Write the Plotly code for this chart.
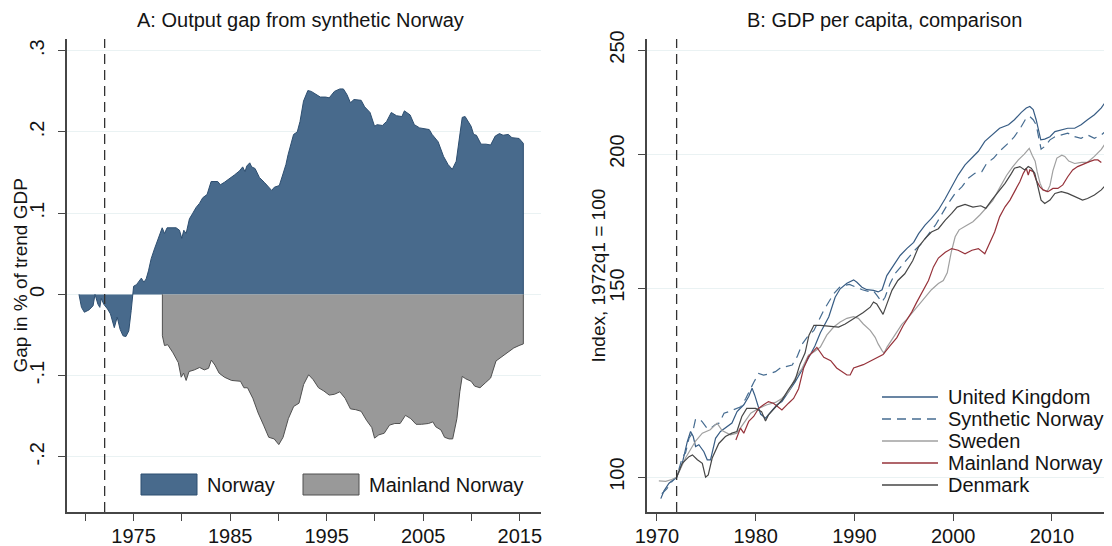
import numpy as np
import plotly.graph_objects as go

# target picture size, and the page's default body margin that offsets the plot div
W_PAGE, H_PAGE = 1112, 546
OFF = 8
W, H = W_PAGE - OFF, H_PAGE - OFF

treatment_year = 1972

# ---- panel A: output gap (share of trend GDP) ----
norway_years = [1969.34, 1969.6, 1969.9, 1970.4, 1970.8, 1971.0, 1971.3, 1971.5, 1971.65, 1971.9,
                1972.3, 1972.6, 1973.0, 1973.3, 1973.6, 1973.9, 1974.2, 1974.5, 1974.75, 1975.0,
                1975.3, 1975.6, 1975.8, 1976.06, 1976.3, 1976.54, 1976.82, 1977.16, 1977.51, 1977.78,
                1977.96, 1978.2, 1978.47, 1979.4, 1979.75, 1979.99, 1980.2, 1980.44, 1980.78, 1981.13,
                1981.47, 1981.82, 1982.16, 1982.61, 1982.85, 1983.03, 1983.71, 1983.99, 1984.4, 1984.92,
                1985.44, 1985.96, 1986.3, 1986.54, 1986.72, 1987.03, 1987.23, 1987.58, 1988.03, 1988.54,
                1989.06, 1989.3, 1989.58, 1990.09, 1990.44, 1990.78, 1991.0, 1991.23, 1991.57, 1991.95,
                1992.24, 1992.6, 1993.05, 1993.4, 1993.97, 1994.34, 1994.9, 1995.26, 1995.8, 1996.36,
                1996.73, 1997.1, 1997.46, 1997.83, 1998.57, 1998.93, 1999.49, 1999.96, 2000.22, 2000.77,
                2001.21, 2001.69, 2002.24, 2002.79, 2003.05, 2003.64, 2004.08, 2004.63, 2005.62, 2005.92,
                2006.54, 2007.1, 2007.57, 2008.01, 2008.42, 2008.79, 2009.04, 2009.34, 2009.67, 2009.96,
                2010.22, 2010.51, 2010.99, 2011.5, 2011.98, 2012.46, 2012.9, 2013.27, 2013.82, 2014.19,
                2014.93, 2015.37, 2015.37]
norway_gap = [0.0, -0.016, -0.022, -0.019, -0.014, 0.0, -0.012, -0.016, -0.005, -0.012,
              -0.018, -0.024, -0.041, -0.028, -0.043, -0.051, -0.052, -0.045, -0.020, 0.010,
              0.012, 0.017, 0.020, 0.015, 0.019, 0.029, 0.044, 0.056, 0.067, 0.077,
              0.082, 0.075, 0.082, 0.082, 0.079, 0.069, 0.079, 0.075, 0.093, 0.100,
              0.107, 0.112, 0.119, 0.123, 0.132, 0.139, 0.139, 0.135, 0.138, 0.142,
              0.147, 0.152, 0.157, 0.151, 0.158, 0.162, 0.157, 0.155, 0.144, 0.138,
              0.131, 0.128, 0.132, 0.134, 0.147, 0.160, 0.172, 0.182, 0.197, 0.200,
              0.213, 0.238, 0.251, 0.250, 0.246, 0.243, 0.243, 0.242, 0.250, 0.253,
              0.253, 0.246, 0.236, 0.240, 0.239, 0.231, 0.224, 0.207, 0.209, 0.208,
              0.213, 0.224, 0.220, 0.219, 0.226, 0.221, 0.209, 0.205, 0.203, 0.197,
              0.188, 0.170, 0.160, 0.154, 0.164, 0.197, 0.218, 0.219, 0.213, 0.207,
              0.197, 0.196, 0.185, 0.185, 0.184, 0.195, 0.198, 0.196, 0.197, 0.193,
              0.192, 0.186, 0.0]

mainland_years = [1977.98, 1977.98, 1978.2, 1978.53, 1979.08, 1979.63, 1979.93, 1980.18, 1980.44, 1980.74,
                  1981.29, 1981.84, 1982.32, 1982.76, 1983.05, 1983.42, 1983.86, 1984.41, 1985.15, 1986.07,
                  1986.43, 1986.8, 1987.35, 1987.9, 1988.46, 1989.0, 1989.56, 1990.04, 1990.48, 1991.03,
                  1991.58, 1992.13, 1992.61, 1993.13, 1993.6, 1994.15, 1994.71, 1995.26, 1995.81, 1996.36,
                  1996.91, 1997.46, 1998.01, 1998.57, 1999.12, 1999.67, 1999.96, 2000.4, 2000.96, 2001.51,
                  2002.06, 2002.61, 2003.16, 2003.71, 2004.26, 2004.82, 2005.55, 2006.0, 2006.29, 2006.84,
                  2007.21, 2007.68, 2008.05, 2008.49, 2008.79, 2009.04, 2009.41, 2009.96, 2010.33, 2010.88,
                  2011.43, 2011.98, 2012.54, 2013.09, 2013.64, 2014.38, 2014.93, 2015.37, 2015.37]
mainland_gap = [0.0, -0.051, -0.063, -0.062, -0.072, -0.084, -0.102, -0.097, -0.106, -0.095,
                -0.093, -0.090, -0.093, -0.091, -0.081, -0.087, -0.097, -0.102, -0.106, -0.107,
                -0.115, -0.115, -0.128, -0.146, -0.161, -0.176, -0.178, -0.185, -0.176, -0.153,
                -0.138, -0.134, -0.111, -0.099, -0.105, -0.115, -0.119, -0.124, -0.123, -0.120,
                -0.128, -0.141, -0.142, -0.144, -0.155, -0.164, -0.177, -0.173, -0.171, -0.161,
                -0.159, -0.159, -0.149, -0.153, -0.160, -0.160, -0.159, -0.157, -0.163, -0.167,
                -0.176, -0.178, -0.178, -0.153, -0.120, -0.101, -0.104, -0.107, -0.113, -0.115,
                -0.109, -0.103, -0.082, -0.077, -0.072, -0.066, -0.063, -0.061, 0.0]

gap_ticks = [-0.2, -0.1, 0.0, 0.1, 0.2, 0.3]
gap_tick_labels = ["-.2", "-.1", "0", ".1", ".2", ".3"]
a_year_ticks = [1970, 1975, 1980, 1985, 1990, 1995, 2000, 2005, 2010, 2015]
a_year_labels = ["", "1975", "", "1985", "", "1995", "", "2005", "", "2015"]

# ---- panel B: GDP per capita index, 1972q1 = 100 ----
uk_years = [1970.4, 1970.72, 1971.23, 1972.0, 1972.57, 1973.08, 1973.41, 1973.68, 1973.92, 1974.25,
            1974.76, 1975.1, 1975.43, 1975.6, 1975.94, 1976.44, 1976.94, 1977.6, 1978.12, 1978.8,
            1979.3, 1979.64, 1979.9, 1980.14, 1980.5, 1981.0, 1981.65, 1982.16, 1982.66, 1983.33,
            1984.0, 1984.68, 1985.35, 1986.0, 1986.55, 1987.4, 1988.05, 1988.56, 1989.24, 1989.92,
            1990.25, 1990.76, 1991.26, 1991.93, 1992.4, 1992.8, 1993.28, 1993.96, 1994.63, 1995.3,
            1996.0, 1996.5, 1997.15, 1997.8, 1998.5, 1999.2, 1999.85, 2000.5, 2001.2, 2001.9,
            2002.55, 2003.2, 2003.9, 2004.7, 2005.6, 2006.2, 2006.9, 2007.4, 2007.76, 2008.1,
            2008.4, 2008.67, 2008.87, 2009.27, 2009.8, 2010.3, 2010.95, 2011.6, 2012.3, 2012.95,
            2013.6, 2014.3, 2015.0, 2015.6]
uk_index = [95.5, 97.1, 98.7, 100.0, 103.0, 107.9, 110.3, 109.1, 106.8, 107.2,
            105.6, 103.8, 103.8, 105.6, 108.7, 110.3, 111.1, 112.3, 115.1, 116.8,
            118.9, 121.0, 119.3, 117.2, 114.5, 113.5, 115.5, 116.8, 117.6, 120.1,
            122.7, 125.8, 129.0, 132.5, 136.3, 141.0, 147.1, 149.8, 151.6, 152.7,
            151.9, 150.3, 149.5, 149.3, 148.8, 149.5, 154.1, 157.5, 160.9, 163.3,
            165.5, 168.6, 171.7, 174.2, 177.4, 181.8, 186.5, 191.2, 195.4, 198.3,
            201.2, 205.5, 208.4, 211.4, 213.0, 215.3, 218.7, 220.8, 221.5, 220.0,
            215.3, 209.2, 206.2, 206.5, 207.6, 209.9, 210.7, 211.4, 211.4, 213.0,
            215.3, 217.6, 220.8, 225.0]

synth_years = [1970.5, 1971.0, 1971.5, 1972.0, 1972.6, 1972.9, 1973.25, 1973.6, 1973.9, 1974.25,
               1974.6, 1975.1, 1975.4, 1975.9, 1976.3, 1976.8, 1977.3, 1978.0, 1978.5, 1979.0,
               1979.3, 1979.8, 1980.3, 1980.8, 1981.5, 1982.0, 1982.66, 1983.0, 1983.7, 1984.2,
               1984.7, 1985.2, 1985.9, 1986.55, 1986.9, 1987.4, 1987.9, 1988.5, 1988.9, 1989.5,
               1990.0, 1990.8, 1991.4, 1991.9, 1992.3, 1992.77, 1993.1, 1993.6, 1994.1, 1994.8,
               1995.5, 1996.1, 1996.8, 1997.5, 1998.2, 1998.8, 1999.5, 2000.2, 2000.9, 2001.5,
               2002.2, 2002.9, 2003.4, 2004.1, 2004.7, 2005.6, 2006.2, 2006.9, 2007.4, 2007.76,
               2008.1, 2008.4, 2008.67, 2008.9, 2009.27, 2009.8, 2010.3, 2010.95, 2011.6, 2012.3,
               2012.95, 2013.6, 2014.3, 2015.0, 2015.6]
synth_index = [96.5, 97.5, 99.0, 100.0, 104.5, 105.3, 108.7, 109.9, 113.1, 113.4,
               112.6, 111.0, 111.0, 111.9, 112.3, 114.7, 115.1, 115.9, 116.3, 118.4,
               120.0, 122.5, 124.9, 124.5, 124.9, 125.4, 126.7, 126.7, 127.2, 129.5,
               133.0, 135.0, 137.0, 141.1, 143.1, 145.6, 148.2, 150.3, 150.8, 151.2,
               150.5, 149.5, 149.0, 149.2, 147.6, 145.6, 147.1, 151.4, 154.7, 157.5,
               160.5, 162.7, 165.1, 168.6, 171.7, 175.5, 179.9, 183.8, 186.5, 189.8,
               191.9, 192.6, 196.1, 198.3, 201.2, 204.8, 207.6, 212.2, 216.1, 216.8,
               215.3, 213.0, 207.6, 202.1, 203.3, 206.2, 207.6, 208.4, 209.2, 207.6,
               206.9, 208.4, 206.9, 208.4, 210.7]

sweden_years = [1970.2, 1970.9, 1971.5, 1972.0, 1972.9, 1973.9, 1974.6, 1975.4, 1976.1, 1976.6,
                1977.45, 1978.1, 1978.8, 1979.5, 1980.3, 1981.15, 1982.0, 1982.66, 1983.33, 1984.0,
                1984.7, 1985.35, 1986.0, 1986.55, 1987.2, 1987.9, 1988.56, 1989.24, 1989.92, 1990.4,
                1990.9, 1991.6, 1992.1, 1992.4, 1992.8, 1993.0, 1993.3, 1993.8, 1994.3, 1994.8,
                1995.3, 1996.1, 1997.0, 1997.8, 1998.5, 1999.0, 1999.4, 1999.8, 2000.2, 2000.6,
                2001.3, 2002.0, 2002.7, 2003.3, 2004.0, 2004.7, 2005.4, 2006.0, 2006.6, 2007.2,
                2007.7, 2008.0, 2008.3, 2008.5, 2008.8, 2009.1, 2009.5, 2009.8, 2010.1, 2010.5,
                2011.0, 2011.3, 2011.7, 2012.3, 2013.0, 2013.6, 2014.3, 2015.0, 2015.6]
sweden_index = [99.2, 99.1, 99.5, 100.0, 104.2, 108.0, 109.9, 110.7, 112.3, 110.5,
                109.5, 109.9, 112.3, 114.7, 115.9, 116.8, 117.4, 118.4, 120.1, 123.6,
                126.3, 129.9, 131.0, 132.2, 135.6, 138.0, 139.5, 140.6, 141.1, 140.6,
                138.9, 137.0, 135.0, 133.1, 131.2, 130.5, 132.2, 134.3, 136.3, 138.8,
                140.3, 143.2, 146.5, 149.5, 151.5, 152.5, 155.0, 162.0, 167.5, 170.0,
                171.5, 173.0, 175.5, 178.0, 181.0, 186.0, 191.0, 194.5, 197.5, 200.0,
                202.5, 199.5, 197.0, 192.6, 187.8, 185.2, 184.5, 187.0, 193.0, 198.3,
                199.5, 199.0, 197.0, 196.0, 196.5, 196.5, 199.0, 202.0, 206.0]

mainland_idx_years = [1978.0, 1978.46, 1978.8, 1979.3, 1979.8, 1980.3, 1980.8, 1981.3, 1981.8, 1982.3,
                      1982.66, 1983.33, 1983.84, 1984.35, 1984.85, 1985.35, 1985.8, 1986.2, 1986.9, 1987.6,
                      1988.2, 1988.9, 1989.24, 1989.57, 1989.92, 1990.9, 1991.93, 1992.9, 1993.6, 1994.3,
                      1994.93, 1995.8, 1996.3, 1997.0, 1997.5, 1998.0, 1998.5, 1999.2, 1999.85, 2000.5,
                      2001.2, 2001.9, 2002.55, 2003.2, 2003.7, 2004.2, 2004.7, 2005.25, 2005.75, 2006.2,
                      2006.75, 2007.1, 2007.4, 2007.6, 2007.76, 2008.1, 2008.4, 2008.77, 2009.1, 2009.6,
                      2010.1, 2010.6, 2011.1, 2011.6, 2012.1, 2012.6, 2013.3, 2013.8, 2014.3, 2014.65,
                      2015.0]
mainland_index = [108.3, 111.1, 109.9, 112.7, 113.9, 115.9, 116.8, 117.6, 117.2, 116.3,
                  115.5, 117.2, 118.4, 120.9, 126.3, 129.5, 131.0, 132.1, 129.3, 128.4,
                  126.4, 125.1, 124.5, 124.5, 126.4, 127.3, 128.7, 130.1, 132.5, 134.9,
                  138.4, 142.5, 145.5, 149.5, 152.5, 157.0, 160.0, 162.0, 163.3, 162.7,
                  161.5, 162.7, 163.3, 161.5, 165.1, 169.2, 174.8, 178.6, 181.2, 184.5,
                  188.5, 191.9, 194.0, 191.2, 193.3, 192.6, 189.2, 186.5, 185.2, 184.5,
                  185.8, 185.8, 187.2, 190.5, 193.3, 194.7, 196.1, 196.8, 197.5, 197.5,
                  196.4]

denmark_years = [1972.0, 1972.57, 1973.25, 1973.6, 1974.1, 1974.6, 1974.93, 1975.2, 1975.6, 1976.27,
                 1976.94, 1977.6, 1978.1, 1978.6, 1979.1, 1980.0, 1980.6, 1981.0, 1981.3, 1982.0,
                 1982.66, 1983.3, 1984.0, 1984.5, 1985.0, 1985.4, 1985.9, 1986.55, 1987.6, 1988.4,
                 1989.07, 1989.9, 1990.9, 1991.6, 1991.93, 1992.26, 1992.6, 1992.9, 1993.3, 1993.8,
                 1994.4, 1995.1, 1995.9, 1996.5, 1997.15, 1997.8, 1998.5, 1999.2, 1999.85, 2000.4,
                 2001.2, 2002.0, 2002.8, 2003.3, 2003.9, 2004.55, 2005.25, 2005.9, 2006.2, 2006.75,
                 2007.25, 2007.6, 2007.9, 2008.26, 2008.6, 2008.9, 2009.27, 2009.8, 2010.3, 2010.95,
                 2011.6, 2012.3, 2013.1, 2013.6, 2014.3, 2015.0, 2015.6]
denmark_index = [100.0, 103.0, 104.5, 104.9, 103.8, 103.0, 100.0, 100.5, 104.2, 107.5,
                 109.1, 109.9, 110.3, 113.9, 115.9, 115.9, 115.1, 112.8, 114.3, 116.3,
                 118.0, 120.6, 123.2, 127.5, 130.5, 135.6, 138.5, 138.5, 138.2, 138.0,
                 138.9, 140.4, 142.4, 144.0, 145.6, 145.0, 143.2, 141.8, 145.1, 149.3,
                 152.5, 154.7, 159.1, 163.9, 166.8, 169.2, 170.4, 173.6, 176.1, 178.5,
                 179.5, 178.5, 179.0, 178.0, 181.2, 184.5, 187.8, 191.9, 194.0, 194.7,
                 193.3, 194.7, 194.0, 191.9, 186.5, 181.2, 179.9, 181.2, 183.8, 184.5,
                 183.8, 182.5, 181.2, 181.8, 183.2, 185.2, 187.8]

index_ticks = [100, 150, 200, 250]
b_year_ticks = [1970, 1980, 1990, 2000, 2010]

FONT = "Liberation Sans, Arial, sans-serif"
TXT = "rgb(20,20,20)"
norway_fill = "rgb(72,106,140)"
norway_edge = "rgb(45,78,112)"
mainland_fill = "rgb(153,153,153)"
mainland_edge = "rgb(80,80,80)"
axis_col = "rgb(70,70,70)"
grid_col = "rgb(234,242,243)"


def px_x(p):
    # page pixel -> paper fraction
    return (p - OFF) / W


def px_y(p):
    return 1 - (p - OFF) / H


fig = go.Figure()

fig.add_trace(go.Scatter(x=norway_years, y=norway_gap, mode="lines", fill="tozeroy",
                         fillcolor=norway_fill, line=dict(color=norway_edge, width=1),
                         showlegend=False, xaxis="x", yaxis="y"))
fig.add_trace(go.Scatter(x=mainland_years, y=mainland_gap, mode="lines", fill="tozeroy",
                         fillcolor=mainland_fill, line=dict(color=mainland_edge, width=1),
                         showlegend=False, xaxis="x", yaxis="y"))

series = [
    ("United Kingdom", uk_years, uk_index, "rgb(55,92,132)", "solid"),
    ("Synthetic Norway", synth_years, synth_index, "rgb(70,108,145)", "9px,6px"),
    ("Sweden", sweden_years, sweden_index, "rgb(160,160,160)", "solid"),
    ("Mainland Norway", mainland_idx_years, mainland_index, "rgb(150,50,58)", "solid"),
    ("Denmark", denmark_years, denmark_index, "rgb(70,70,70)", "solid"),
]
for name, xs, ys, col, dash in series:
    fig.add_trace(go.Scatter(x=xs, y=ys, mode="lines", name=name, showlegend=False,
                             line=dict(color=col, width=1.2, dash=dash),
                             xaxis="x2", yaxis="y2"))

top_px, bottom_px = 39, 512
ydom = [px_y(bottom_px), px_y(top_px)]
tickfont = dict(family=FONT, size=20, color=TXT)
common = dict(ticks="outside", ticklen=7, tickcolor=axis_col, showline=True,
              linecolor=axis_col, linewidth=1.5, zeroline=False, tickfont=tickfont,
              automargin=False)

fig.update_layout(
    width=W, height=H,
    margin=dict(l=0, r=0, t=0, b=0),
    paper_bgcolor="white", plot_bgcolor="white",
    font=dict(family=FONT, color=TXT),
    showlegend=False,
    xaxis=dict(domain=[px_x(67), px_x(541)], range=[1968.1, 2017.2],
               tickvals=a_year_ticks, ticktext=a_year_labels, showgrid=False,
               anchor="y", ticklabelstandoff=-2, **common),
    yaxis=dict(domain=ydom, range=[-0.268, 0.3145], tickvals=gap_ticks, ticktext=gap_tick_labels,
               tickangle=-90, showgrid=True, gridcolor=grid_col, gridwidth=1,
               anchor="x", ticklabelstandoff=6, **common),
    xaxis2=dict(domain=[px_x(647), 1.0], range=[1969.0, 2016.08],
                tickvals=b_year_ticks, showgrid=False, anchor="y2", ticklabelstandoff=-2, **common),
    yaxis2=dict(domain=ydom, type="log", range=[np.log10(92.8), np.log10(256.0)],
                tickvals=index_ticks, tickangle=-90, showgrid=True, gridcolor=grid_col,
                gridwidth=1, anchor="x2", ticklabelstandoff=6, **common),
)

# treatment date reference line in both panels
for xr, yr in [("x", "y domain"), ("x2", "y2 domain")]:
    fig.add_shape(type="line", xref=xr, yref=yr, x0=treatment_year, x1=treatment_year,
                  y0=0, y1=1, line=dict(color="rgb(50,50,50)", width=1.3, dash="10px,6px"))

mid_y = px_y((top_px + bottom_px) / 2)
texts = [
    ("A: Output gap from synthetic Norway", 300, px_y(20), 0, 20),
    ("B: GDP per capita, comparison", 884, px_y(20), 0, 20),
    ("Gap in % of trend GDP", 20, mid_y, -90, 19),
    ("Index, 1972q1 = 100", 598, mid_y, -90, 19),
]
for text, xp, yp, ang, size in texts:
    fig.add_annotation(text=text, xref="paper", yref="paper", x=px_x(xp), y=yp,
                       showarrow=False, xanchor="center", yanchor="middle", textangle=ang,
                       font=dict(family=FONT, size=size, color=TXT))

# panel A legend keys
keys_a = [("Norway", 141, norway_fill, norway_edge), ("Mainland Norway", 303, mainland_fill, mainland_edge)]
for label, left, fc, ec in keys_a:
    fig.add_shape(type="rect", xref="paper", yref="paper",
                  x0=px_x(left), x1=px_x(left + 56), y0=px_y(495), y1=px_y(474),
                  fillcolor=fc, line=dict(color=ec, width=1))
    fig.add_annotation(text=label, xref="paper", yref="paper", x=px_x(left + 64), y=px_y(485),
                       showarrow=False, xanchor="left", yanchor="middle",
                       font=dict(family=FONT, size=20, color=TXT))

# panel B legend keys
key_left, key_len, row0, row_gap = 882, 56, 397, 22
for i, (name, xs, ys, col, dash) in enumerate(series):
    yk = px_y(row0 + i * row_gap)
    fig.add_shape(type="line", xref="paper", yref="paper",
                  x0=px_x(key_left), x1=px_x(key_left + key_len), y0=yk, y1=yk,
                  line=dict(color=col, width=1.4, dash=dash))
    fig.add_annotation(text=name, xref="paper", yref="paper", x=px_x(key_left + key_len + 8), y=yk,
                       showarrow=False, xanchor="left", yanchor="middle",
                       font=dict(family=FONT, size=20, color=TXT))

fig.write_html("out.html")
